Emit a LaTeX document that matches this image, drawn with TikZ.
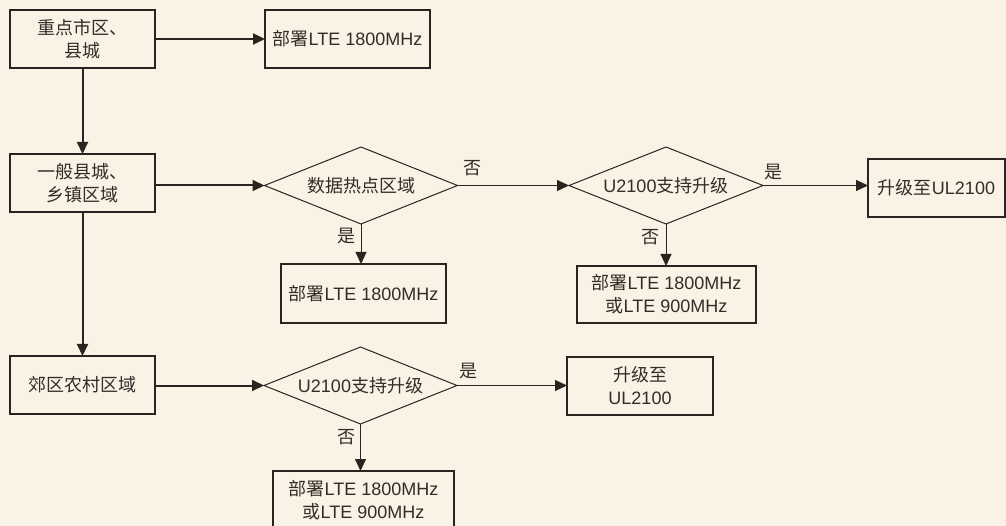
\documentclass[tikz,border=0pt]{standalone}
\usepackage{fontspec}
\setmainfont{Liberation Sans}
\newfontfamily\cjk{Noto Sans CJK SC}
\usetikzlibrary{shapes.geometric,arrows.meta}
\definecolor{bgc}{HTML}{FBF2E6}
\definecolor{ln}{HTML}{2B231F}
\definecolor{tx}{HTML}{332C28}
\tikzset{
  box/.style={draw=ln,line width=1.2pt,rectangle,inner sep=0pt,outer sep=0pt,align=center,text=tx,font=\fontsize{18}{23}\selectfont},
  dia/.style={draw=ln,line width=1pt,diamond,aspect=2.5,inner sep=0pt,outer sep=0pt,minimum width=193pt,minimum height=77pt,text=tx,font=\fontsize{18}{23}\selectfont},
  lab/.style={inner sep=0pt,text=tx,font=\fontsize{18}{23}\selectfont\cjk},
  thick arr/.style={draw=ln,line width=2pt,-{Triangle[length=12pt,width=11pt]}},
  thin arr/.style={draw=ln,line width=1pt,-{Triangle[length=12pt,width=11pt]}},
}
\begin{document}
\begin{tikzpicture}[x=1pt,y=-1pt]
\useasboundingbox[fill=bgc] (0,0) rectangle (1006,526);
% nodes
\node[box,minimum width=145pt,minimum height=58pt] (A) at (82.5,39) {{\cjk 重点市区、}\\{\cjk 县城}};
\node[box,minimum width=165pt,minimum height=58pt] (B) at (347.5,39) {{\cjk 部署}LTE 1800MHz};
\node[box,minimum width=145pt,minimum height=58pt] (C) at (82.5,183) {{\cjk 一般县城、}\\{\cjk 乡镇区域}};
\node[dia] (D1) at (361,185.5) {\cjk 数据热点区域};
\node[box,minimum width=165pt,minimum height=59pt] (E) at (363.5,293.5) {{\cjk 部署}LTE 1800MHz};
\node[dia,minimum width=194pt] (D2) at (666,185.5) {U2100{\cjk 支持升级}};
\node[box,minimum width=137pt,minimum height=58pt] (F) at (936.5,188) {{\cjk 升级至}UL2100};
\node[box,minimum width=179pt,minimum height=57pt] (G) at (666.5,294.5) {{\cjk 部署}LTE 1800MHz\\{\cjk 或}LTE 900MHz};
\node[box,minimum width=145pt,minimum height=58pt] (J) at (82.5,385) {\cjk 郊区农村区域};
\node[dia] (D3) at (360.5,385.5) {U2100{\cjk 支持升级}};
\node[box,minimum width=146pt,minimum height=58pt] (H) at (640,386) {{\cjk 升级至}\\UL2100};
\node[box,minimum width=181pt,minimum height=58pt] (I) at (363.5,500) {{\cjk 部署}LTE 1800MHz\\{\cjk 或}LTE 900MHz};
% labels
\node[lab] (l1) at (472,168) {否};
\node[lab] (l2) at (346,236) {是};
\node[lab] (l3) at (773,172) {是};
\node[lab] (l4) at (650,237) {否};
\node[lab] (l5) at (468,371) {是};
\node[lab] (l6) at (346,437) {否};
% connectors
\draw[thick arr] (A.east) -- (B.west);
\draw[thick arr] (A.south) -- (C.north);
\draw[thick arr] (C.south) -- (J.north);
\draw[thick arr] (C.east |- D1.west) -- (D1.west);
\draw[thin arr] (D1.east) -- (D2.west);
\draw[thin arr] (D1.south) -- (D1.south |- E.north);
\draw[thin arr] (D2.east) -- (D2.east -| F.west);
\draw[thin arr] (D2.south) -- (D2.south |- G.north);
\draw[thick arr] (J.east |- D3.west) -- (D3.west);
\draw[thin arr] (D3.east) -- (D3.east -| H.west);
\draw[thin arr] (D3.south) -- (D3.south |- I.north);
\end{tikzpicture}
\end{document}
